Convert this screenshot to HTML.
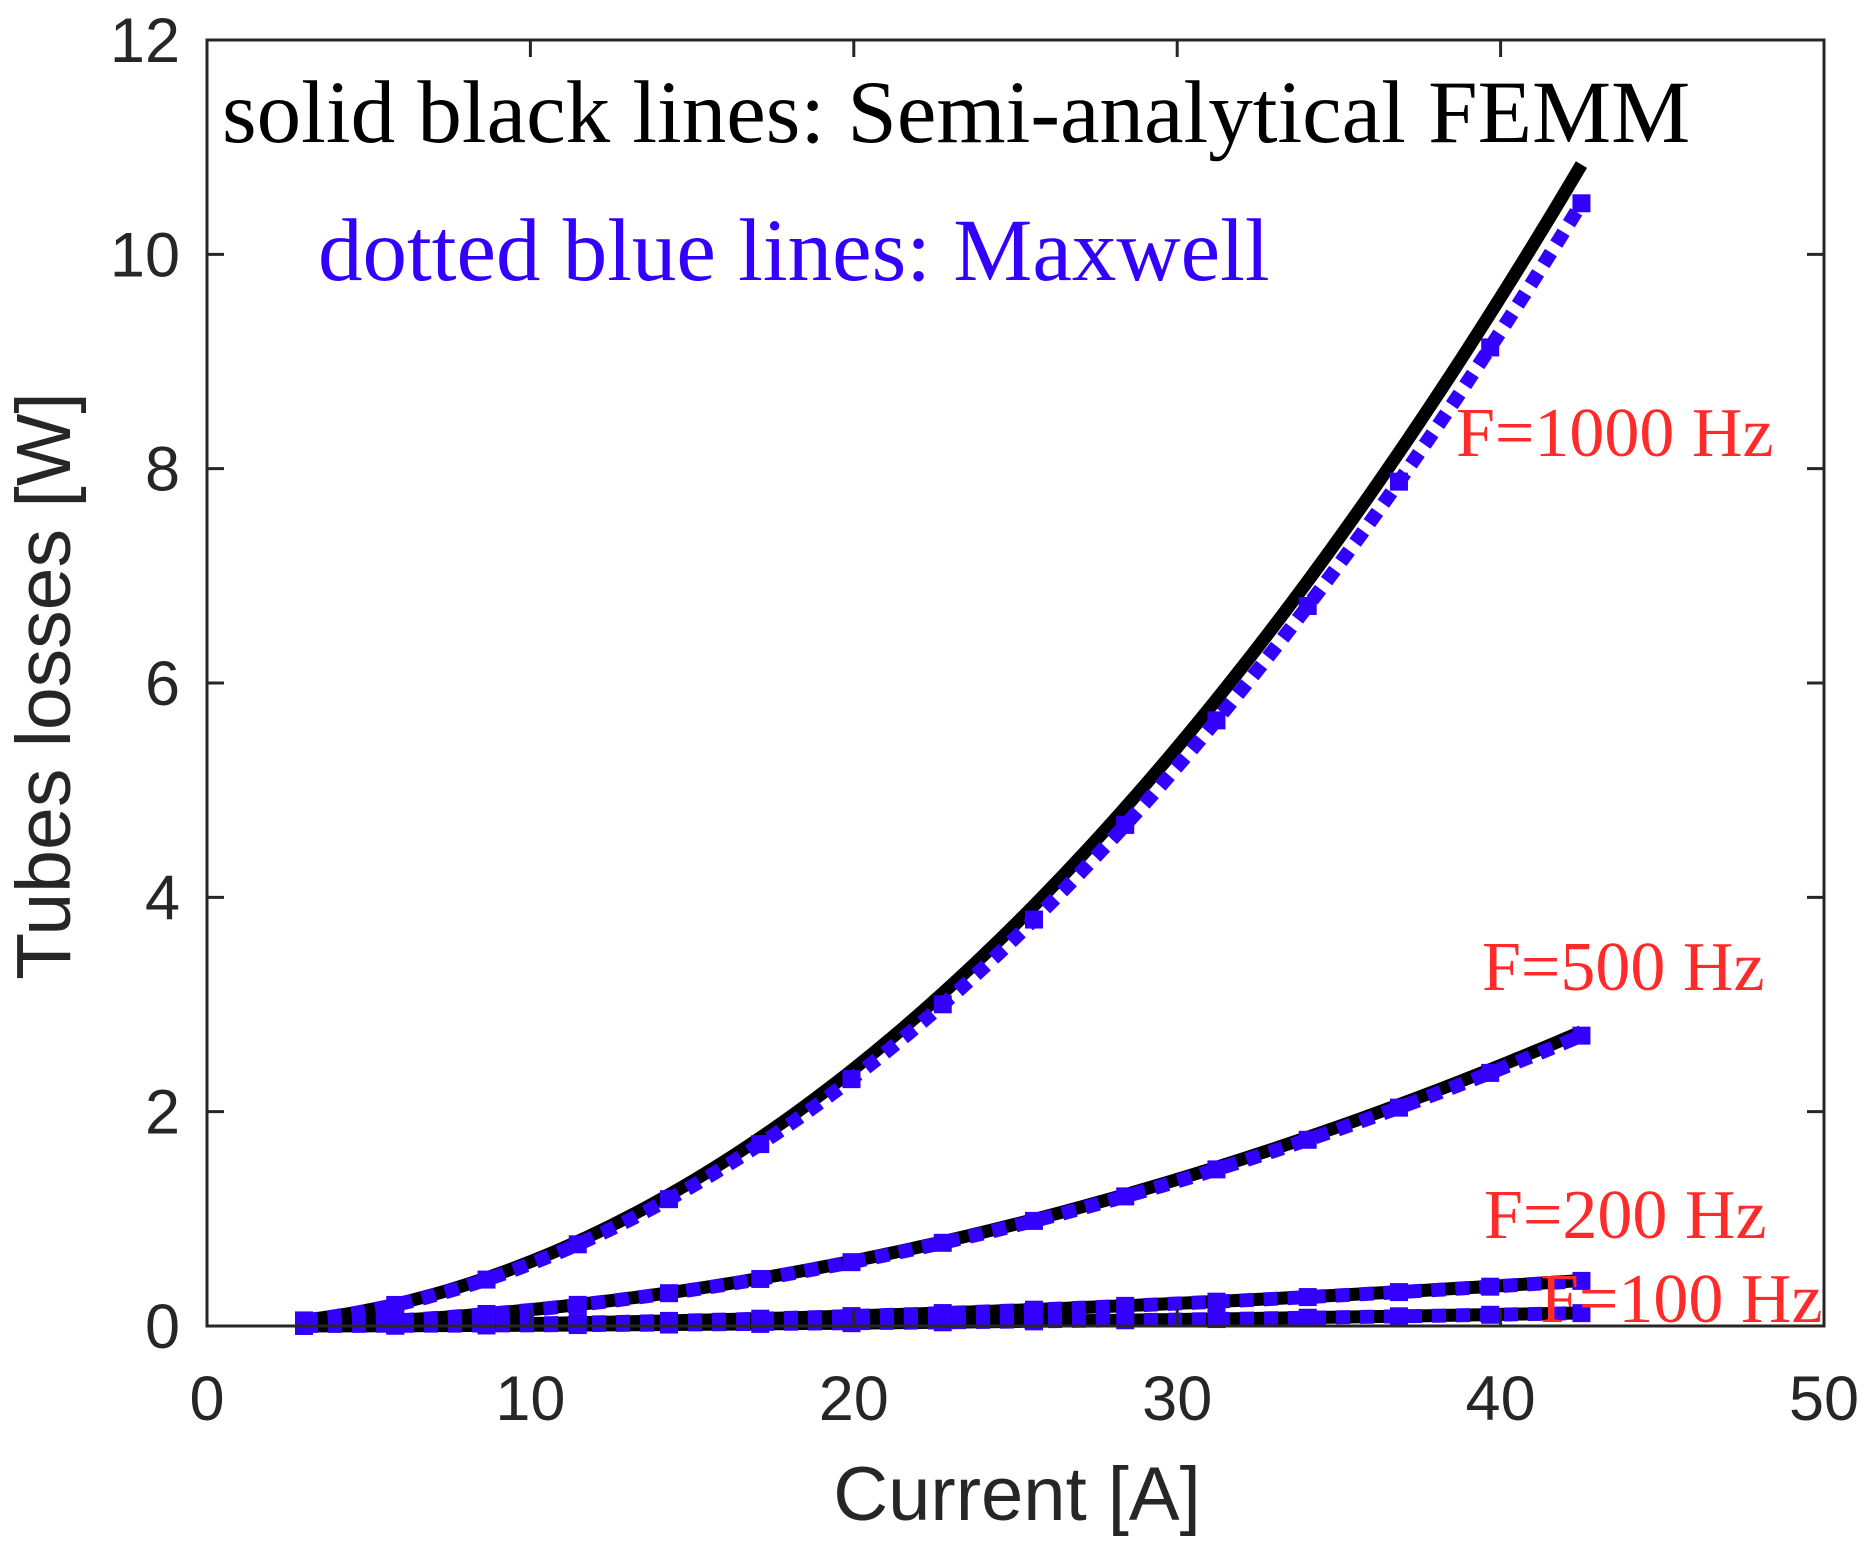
<!DOCTYPE html>
<html><head><meta charset="utf-8"><style>
html,body{margin:0;padding:0;background:#fff;}
svg{display:block;}
</style></head><body>
<svg id="s" width="1874" height="1550" viewBox="0 0 1874 1550" xmlns="http://www.w3.org/2000/svg">
<rect width="1874" height="1550" fill="#fff"/>
<g id="curves"></g>
<g id="axes" stroke="#262626" stroke-width="3" fill="none"></g>
<g font-family="Liberation Sans, Arial, sans-serif" font-size="63" fill="#262626" id="ticks"></g>
<text x="1017" y="1520" font-family="Liberation Sans, Arial, sans-serif" font-size="76" fill="#262626" text-anchor="middle">Current [A]</text>
<text transform="translate(70,686) rotate(-90)" font-family="Liberation Sans, Arial, sans-serif" font-size="77" fill="#262626" text-anchor="middle">Tubes losses [W]</text>
<g font-family="Liberation Serif, Times New Roman, serif">
<text x="222" y="142" font-size="89" fill="#000">solid black lines: Semi-analytical FEMM</text>
<text x="318" y="280" font-size="89" fill="#3300ff">dotted blue lines: Maxwell</text>
<g font-size="70" fill="#ff2a2a">
<text x="1456" y="456">F=1000 Hz</text>
<text x="1482" y="990">F=500 Hz</text>
<text x="1484" y="1238">F=200 Hz</text>
<text x="1540" y="1322">F=100 Hz</text>
</g></g>
</svg>
<script>
var L=207,R=1824,T=40,B=1326;
function X(v){return L+(R-L)*v/50;}
function Y(v){return B-(B-T)*v/12;}
var ns="http://www.w3.org/2000/svg";
var ax=document.getElementById('axes');
function el(p,tag,a){var e=document.createElementNS(ns,tag);for(var k in a)e.setAttribute(k,a[k]);p.appendChild(e);return e;}
el(ax,'rect',{x:L,y:T,width:R-L,height:B-T});
var tk=document.getElementById('ticks');
for(var i=0;i<=5;i++){var x=X(i*10);
 el(ax,'line',{x1:x,y1:B,x2:x,y2:B-17});el(ax,'line',{x1:x,y1:T,x2:x,y2:T+17});
 var t=el(tk,'text',{x:x,y:1420,'text-anchor':'middle'});t.textContent=i*10;}
for(var j=0;j<=6;j++){var y=Y(j*2);
 el(ax,'line',{x1:L,y1:y,x2:L+17,y2:y});el(ax,'line',{x1:R,y1:y,x2:R-17,y2:y});
 var t=el(tk,'text',{x:180,y:y+22,'text-anchor':'end'});t.textContent=j*2;}
var cv=document.getElementById('curves');
var cs=[[0.006,0.0058],[0.00152,0.0015],[0.000235,0.000233],[0.0000675,0.0000665]];
cs.forEach(function(c){
 var pb=[],pbl=[];
 for(var x=3;x<=42.51;x+=0.25){pb.push(X(x)+','+Y(c[0]*x*x));pbl.push(X(x)+','+Y(c[1]*x*x));}
 el(cv,'polyline',{points:pb.join(' '),fill:'none',stroke:'#000','stroke-width':13});
 el(cv,'polyline',{points:pbl.join(' '),fill:'none',stroke:'#3300ff','stroke-width':14,'stroke-dasharray':'14 10'});
 for(var k=0;k<15;k++){var x=3+k*(39.5/14);
  el(cv,'rect',{x:X(x)-9,y:Y(c[1]*x*x)-9,width:18,height:18,fill:'#3300ff'});}
});
</script>
</body></html>
